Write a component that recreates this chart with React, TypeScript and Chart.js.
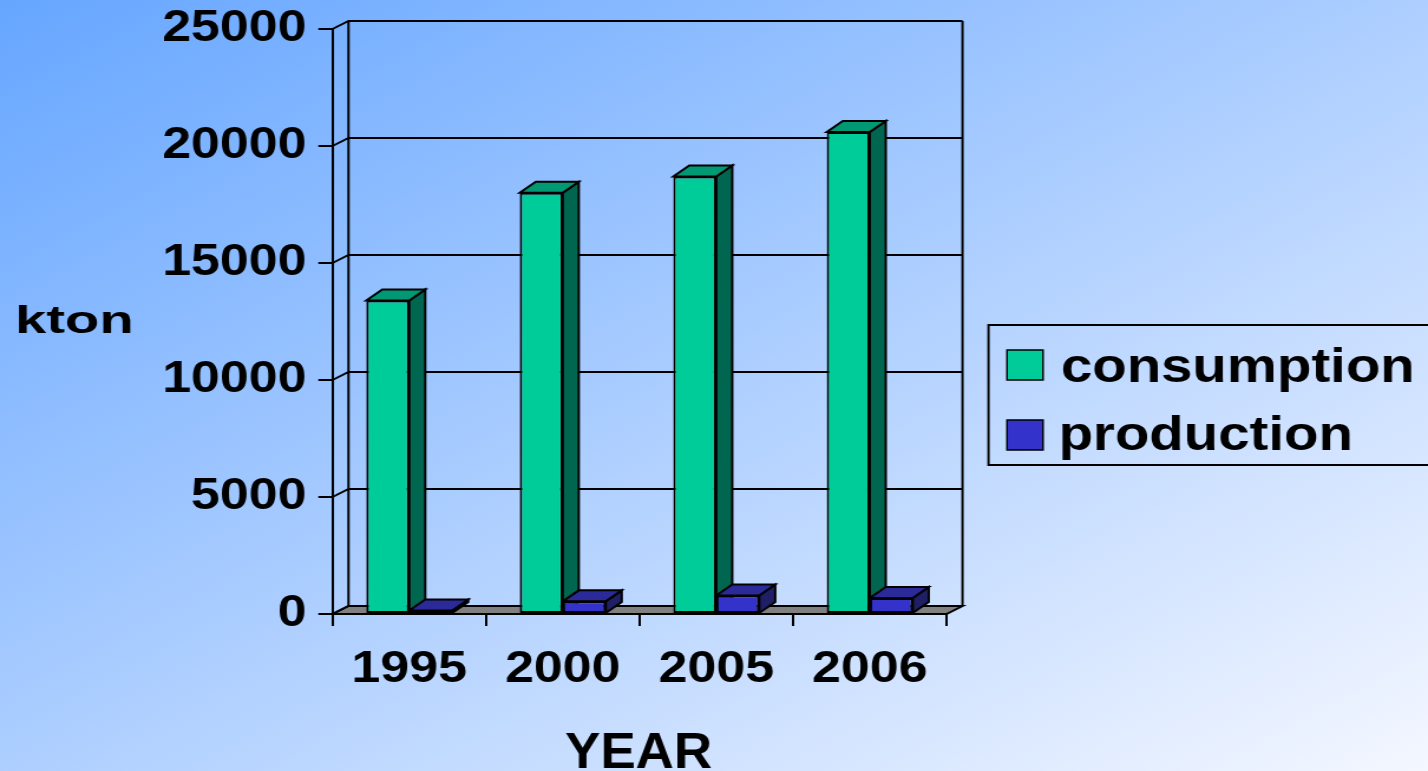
import React, { useEffect, useRef } from "react";
import { Chart, registerables } from "chart.js";

Chart.register(...registerables);

// ---- data ----
const years = ["1995", "2000", "2005", "2006"];
const consumption = [13400, 18000, 18700, 20600];
const production = [150, 540, 790, 680];
const yTickValues = [0, 5000, 10000, 15000, 20000, 25000];
const seriesLabels = ["consumption", "production"];
const yTitle = "kton";
const xTitle = "YEAR";

// ---- styles ----
const frontColors = ["#00CC99", "#3333CC"];
const sideColors = ["#006650", "#1F1F66"];
const topColors = ["#009973", "#2A2A99"];

const W = 1428;
const H = 771;
const IW = 1210;
const S = W / IW; // horizontal stretch of the picture
const FONT = '"Liberation Sans", Arial, Helvetica, sans-serif';
const WALL_DX = 16 / S;
const WALL_DY = -8;
const BAR_DX = 16 / S;
const BAR_DY = -11;

function poly(ctx: CanvasRenderingContext2D, pts: number[][], fill: string) {
  ctx.beginPath();
  ctx.moveTo(pts[0][0], pts[0][1]);
  for (let i = 1; i < pts.length; i++) ctx.lineTo(pts[i][0], pts[i][1]);
  ctx.closePath();
  ctx.fillStyle = fill;
  ctx.fill();
  ctx.stroke();
}

function inkWidth(ctx: CanvasRenderingContext2D, text: string, size: number) {
  ctx.font = `bold ${size}px ${FONT}`;
  const m = ctx.measureText(text);
  return { w: m.actualBoundingBoxLeft + m.actualBoundingBoxRight, abl: m.actualBoundingBoxLeft };
}

function drawScaled(
  ctx: CanvasRenderingContext2D,
  text: string,
  refLeft: number,
  baseline: number,
  size: number,
  scale: number
) {
  ctx.save();
  const { abl } = inkWidth(ctx, text, size);
  ctx.textAlign = "left";
  ctx.textBaseline = "alphabetic";
  ctx.fillStyle = "#000";
  ctx.translate(refLeft / S + abl * scale, baseline);
  ctx.scale(scale, 1);
  ctx.fillText(text, 0, 0);
  ctx.restore();
}

function drawFit(
  ctx: CanvasRenderingContext2D,
  text: string,
  refLeft: number,
  baseline: number,
  size: number,
  refInk: number
) {
  const { w } = inkWidth(ctx, text, size);
  drawScaled(ctx, text, refLeft, baseline, size, refInk / S / w);
}

const threeD = {
  id: "threeD",
  beforeDatasetsDraw(chart: any) {
    const { ctx, chartArea: ca } = chart;
    const y = chart.scales.y;
    ctx.save();
    ctx.strokeStyle = "#000";
    ctx.lineWidth = 2;
    ctx.lineJoin = "miter";
    // floor
    poly(
      ctx,
      [
        [ca.left, ca.bottom],
        [ca.right, ca.bottom],
        [ca.right + WALL_DX, ca.bottom + WALL_DY],
        [ca.left + WALL_DX, ca.bottom + WALL_DY],
      ],
      "#808080"
    );
    // back wall gridlines + left wall connectors
    ctx.beginPath();
    y.ticks.forEach((t: any) => {
      const py = y.getPixelForValue(t.value);
      ctx.moveTo(ca.left, py);
      ctx.lineTo(ca.left + WALL_DX, py + WALL_DY);
      ctx.lineTo(ca.right + WALL_DX, py + WALL_DY);
    });
    ctx.moveTo(ca.left + WALL_DX, ca.top + WALL_DY);
    ctx.lineTo(ca.left + WALL_DX, ca.bottom + WALL_DY);
    ctx.moveTo(ca.right + WALL_DX, ca.top + WALL_DY);
    ctx.lineTo(ca.right + WALL_DX, ca.bottom + WALL_DY);
    ctx.stroke();
    // 3D sides and tops of bars
    chart.data.datasets.forEach((_ds: any, di: number) => {
      const meta = chart.getDatasetMeta(di);
      meta.data.forEach((el: any) => {
        const { x, y: top, base, width } = el.getProps(["x", "y", "base", "width"], true);
        const l = x - width / 2;
        const r = x + width / 2;
        poly(
          ctx,
          [
            [r, top],
            [r + BAR_DX, top + BAR_DY],
            [r + BAR_DX, base + BAR_DY],
            [r, base],
          ],
          sideColors[di]
        );
        poly(
          ctx,
          [
            [l, top],
            [r, top],
            [r + BAR_DX, top + BAR_DY],
            [l + BAR_DX, top + BAR_DY],
          ],
          topColors[di]
        );
      });
    });
    ctx.restore();
  },
  afterDraw(chart: any) {
    const { ctx } = chart;
    ctx.save();
    // axis titles
    drawFit(ctx, yTitle, 18, 333, 39, 113);
    drawFit(ctx, xTitle, 565, 768, 50, 147);
    // legend
    ctx.strokeStyle = "#000";
    ctx.lineWidth = 2;
    const boxL = 988.5 / S;
    ctx.strokeRect(boxL, 325, IW + 20 - boxL, 140);
    const size = 48;
    const base = inkWidth(ctx, chart.data.datasets[0].label, size).w;
    const sc = 350 / S / base;
    chart.data.datasets.forEach((ds: any, i: number) => {
      ctx.fillStyle = ds.backgroundColor;
      ctx.lineWidth = 1.5;
      ctx.fillRect(1007 / S, 350 + i * 70, 36 / S, 30);
      ctx.strokeRect(1007 / S, 350 + i * 70, 36 / S, 30);
      drawScaled(ctx, ds.label, 1062, 381.5 + i * 68.5, size, sc);
    });
    ctx.restore();
  },
};

const tickFont = { family: FONT, size: 44, weight: "bold" as const };

export default function App() {
  const ref = useRef<HTMLCanvasElement>(null);
  useEffect(() => {
    const chart = new Chart(ref.current as HTMLCanvasElement, {
      type: "bar",
      data: {
        labels: years,
        datasets: [
          {
            label: seriesLabels[0],
            data: consumption,
            backgroundColor: frontColors[0],
            borderColor: "#000",
            borderWidth: 2,
            borderSkipped: false,
            categoryPercentage: 0.56,
            barPercentage: 1,
          },
          {
            label: seriesLabels[1],
            data: production,
            backgroundColor: frontColors[1],
            borderColor: "#000",
            borderWidth: 2,
            borderSkipped: false,
            categoryPercentage: 0.56,
            barPercentage: 1,
          },
        ],
      },
      options: {
        responsive: false,
        animation: false,
        layout: { padding: { left: 0, top: 29, right: IW - 946.5 / S, bottom: 0 } },
        plugins: { legend: { display: false }, tooltip: { enabled: false } },
        scales: {
          x: {
            offset: true,
            afterFit: (s: any) => {
              s.height = H - 614;
              s.paddingLeft = 0;
              s.paddingRight = 0;
            },
            grid: {
              offset: true,
              drawOnChartArea: false,
              drawTicks: true,
              tickLength: 12,
              color: "#000",
              lineWidth: 2,
            },
            border: { display: true, color: "#000", width: 2 },
            ticks: { color: "#000", font: tickFont, padding: 17, maxRotation: 0, autoSkip: false },
          },
          y: {
            min: 0,
            max: 25000,
            afterBuildTicks: (s: any) => {
              s.ticks = yTickValues.map((v) => ({ value: v }));
            },
            afterFit: (s: any) => {
              s.width = 332.5 / S;
              s.paddingTop = 0;
              s.paddingBottom = 0;
            },
            grid: {
              drawOnChartArea: false,
              drawTicks: true,
              tickLength: 12,
              color: "#000",
              lineWidth: 2,
            },
            border: { display: true, color: "#000", width: 2 },
            ticks: {
              color: "#000",
              font: tickFont,
              padding: 10,
              callback: (v: any) => String(v),
            },
          },
        },
      },
      plugins: [threeD],
    });
    return () => chart.destroy();
  }, []);

  return (
    <div
      style={{
        position: "fixed",
        left: 0,
        top: 0,
        width: W,
        height: H,
        overflow: "hidden",
        background: "linear-gradient(to bottom right, #66A6FF, #F4F7FF)",
      }}
    >
      <canvas
        ref={ref}
        width={IW}
        height={H}
        style={{ display: "block", width: W + "px", height: H + "px" }}
      />
    </div>
  );
}
